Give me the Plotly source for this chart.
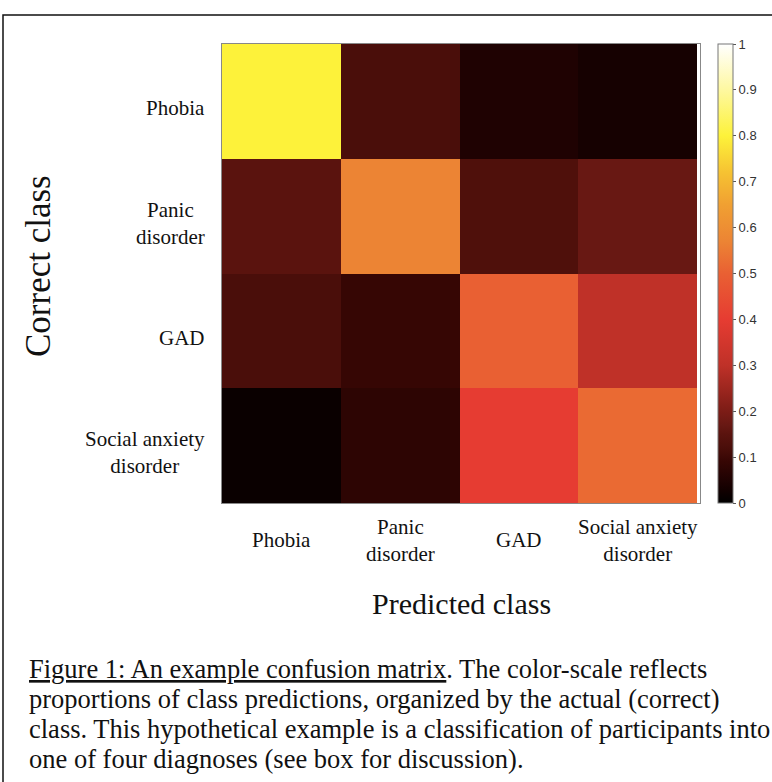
import plotly.graph_objects as go

# ---- data ----
predicted_classes = ["Phobia", "Panic disorder", "GAD", "Social anxiety disorder"]
correct_classes = ["Phobia", "Panic disorder", "GAD", "Social anxiety disorder"]
tick_text = ["Phobia", "Panic<br>disorder", "GAD", "Social anxiety<br>disorder"]
row_phobia = [0.80, 0.12, 0.05, 0.035]
row_panic = [0.15, 0.57, 0.13, 0.17]
row_gad = [0.12, 0.09, 0.50, 0.30]
row_social = [0.015, 0.075, 0.40, 0.52]
cbar_ticks = [0, 0.1, 0.2, 0.3, 0.4, 0.5, 0.6, 0.7, 0.8, 0.9, 1]
cbar_labels = ["0", "0.1", "0.2", "0.3", "0.4", "0.5", "0.6", "0.7", "0.8", "0.9", "1"]
caption_lines = [
    "<u>Figure 1: An example confusion matrix</u>. The color-scale reflects",
    "proportions of class predictions, organized by the actual (correct)",
    "class. This hypothetical example is a classification of participants into",
    "one of four diagnoses (see box for discussion).",
]

W, H = 772, 782
def px(x):
    return x / W
def py(y):
    return 1 - y / H

colorscale = [
    [0.0, "#000000"], [0.03, "#130000"], [0.05, "#1F0202"], [0.09, "#360604"],
    [0.12, "#4A0E0A"], [0.15, "#5A130E"], [0.17, "#681813"], [0.2, "#7C1C16"],
    [0.3, "#BF3128"], [0.4, "#E63C32"], [0.5, "#E96033"], [0.57, "#EC8434"],
    [0.65, "#F0A032"], [0.72, "#F6C232"], [0.8, "#FDF23A"], [0.9, "#FEF8A0"],
    [1.0, "#FFFFFF"],
]

z = [row_phobia, row_panic, row_gad, row_social]

serif = "Liberation Serif, Times New Roman, serif"

fig = go.Figure(go.Heatmap(
    z=z, x=predicted_classes, y=correct_classes,
    zmin=0, zmax=1, colorscale=colorscale,
    colorbar=dict(
        thickness=15, thicknessmode="pixels",
        len=459, lenmode="pixels",
        x=px(718), xanchor="left", xpad=0,
        y=py(503), yanchor="bottom", ypad=0,
        tickvals=cbar_ticks, ticktext=cbar_labels,
        ticks="outside", ticklen=3, tickcolor="#555",
        tickfont=dict(family="Liberation Sans, Arial, sans-serif", size=13, color="#333"),
        outlinecolor="#777", outlinewidth=1,
    ),
    hoverinfo="skip",
))

fig.update_xaxes(domain=[px(222), px(700)], showticklabels=False, ticks="",
                 showline=True, linecolor="#888", linewidth=1, mirror=True,
                 showgrid=False, zeroline=False)
fig.update_yaxes(domain=[py(503), py(44)], showticklabels=False, ticks="",
                 autorange="reversed",
                 showline=True, linecolor="#888", linewidth=1, mirror=True,
                 showgrid=False, zeroline=False)

annotations = []
for cat, txt in zip(correct_classes, tick_text):
    annotations.append(dict(x=px(207), xref="paper", y=cat, yref="y", yshift=-7,
                            xanchor="right", yanchor="middle", align="center",
                            text=txt, showarrow=False,
                            font=dict(family=serif, size=21, color="#111")))
for cat, txt in zip(predicted_classes, tick_text):
    annotations.append(dict(x=cat, xref="x", y=py(540), yref="paper",
                            xanchor="center", yanchor="middle", align="center",
                            text=txt, showarrow=False,
                            font=dict(family=serif, size=21, color="#111")))

annotations.append(dict(x=px(461), y=py(603), xref="paper", yref="paper",
                        text="Predicted class", showarrow=False,
                        xanchor="center", yanchor="middle",
                        font=dict(family=serif, size=30, color="#111")))
annotations.append(dict(x=px(38), y=py(266), xref="paper", yref="paper",
                        text="Correct class", showarrow=False, textangle=-90,
                        xanchor="center", yanchor="middle",
                        font=dict(family=serif, size=35, color="#111")))

for i, line in enumerate(caption_lines):
    annotations.append(dict(x=px(27), y=py(669 + 30 * i), xref="paper", yref="paper",
                            text=line, showarrow=False, xanchor="left", yanchor="middle",
                            align="left",
                            font=dict(family=serif, size=26.5, color="#111")))

fig.update_layout(
    width=W, height=H, autosize=False,
    margin=dict(l=0, r=0, t=0, b=0),
    paper_bgcolor="white", plot_bgcolor="white",
    annotations=annotations,
    shapes=[dict(type="rect", xref="paper", yref="paper",
                 x0=px(3), x1=px(W + 20), y0=py(H + 20), y1=py(15),
                 line=dict(color="#111", width=1.5), fillcolor="rgba(0,0,0,0)")],
)

fig.write_html("out.html", config={"displayModeBar": False},
               post_script="document.body.style.margin='0px';document.body.style.overflow='hidden';")
